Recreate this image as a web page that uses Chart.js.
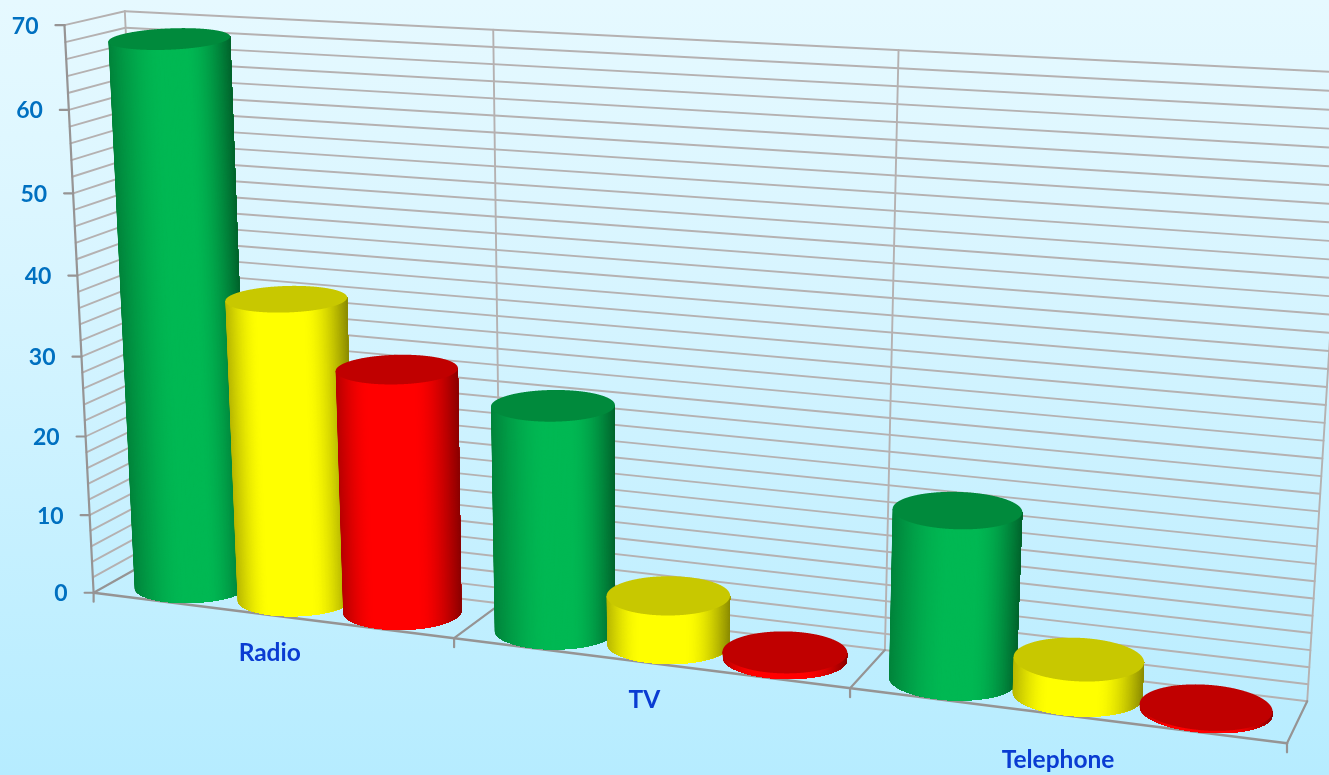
<!DOCTYPE html>
<html>
<head>
<meta charset="utf-8">
<title>Radio TV Telephone</title>
<script src="https://cdn.jsdelivr.net/npm/chart.js@4"></script>
<style>
    html, body { margin: 0; padding: 0; width: 1329px; height: 775px; overflow: hidden; }
    body { background: linear-gradient(180deg, #e6f9ff 0%, #d8f5ff 35%, #b6ecff 100%); }
    canvas { display: block; }
</style>
</head>
<body>
<canvas id="chart" width="1329" height="775"></canvas>
<script>
// data
const categories = ['Radio', 'TV', 'Telephone'];
const greenValues = [68, 27.6, 20];
const yellowValues = [37.6, 6, 4.2];
const redValues = [30.2, 0.8, 0.4];
const yMax = 70;
const yStep = 2;

// colours: body, top of the cylinder, width of the dark left side
const greenColors = ['#00b853', '#008a3c', 0.45];
const yellowColors = ['#ffff00', '#c8c800', 0.28];
const redColors = ['#ff0000', '#c00000', 0.28];

// category label nudges from the front edge, [dx, dy]
const labelNudge = [[0, 38], [-3, 37], [-5, 45]];

// where the corners of the 3D box fall on the page: [u, v, w, x, y]
const boxPoints = [
    [0, 0, 0, 96, 591], [1/3, 0, 0, 456, 637], [2/3, 0, 0, 851, 688], [1, 0, 0, 1287, 744],
    [0, 1, 0, 148, 563], [1/3, 1, 0, 497, 607], [2/3, 1, 0, 886, 648], [1, 1, 0, 1307, 700],
    [0, 0, 1, 62.7, 26], [0, 1, 1, 127, 10], [1/3, 1, 1, 493, 30], [2/3, 1, 1, 896, 50], [1, 1, 1, 1348, 74],
    [0, 0, 1, 62.7, 26], [0, 1, 1, 127, 10], [0, 0, 1, 62.7, 26], [0, 1, 1, 127, 10]
];

// least squares fit of the camera matrix
function fitCamera(points) {
    let n = 11;
    let A = [];
    for (let i = 0; i < n; i++) { A.push(new Array(n + 1).fill(0)); }
    function addRow(row, b) {
        for (let i = 0; i < n; i++) {
            for (let j = 0; j < n; j++) { A[i][j] += row[i] * row[j]; }
            A[i][n] += row[i] * b;
        }
    }
    points.forEach(function (p) {
        let x = p[3] / 1000, y = p[4] / 1000;
        addRow([p[0], p[1], p[2], 1, 0, 0, 0, 0, -x * p[0], -x * p[1], -x * p[2]], x);
        addRow([0, 0, 0, 0, p[0], p[1], p[2], 1, -y * p[0], -y * p[1], -y * p[2]], y);
    });
    for (let c = 0; c < n; c++) {
        let best = c;
        for (let r = c + 1; r < n; r++) { if (Math.abs(A[r][c]) > Math.abs(A[best][c])) best = r; }
        let tmp = A[c]; A[c] = A[best]; A[best] = tmp;
        for (let r = 0; r < n; r++) {
            if (r === c) continue;
            let f = A[r][c] / A[c][c];
            for (let k = c; k <= n; k++) { A[r][k] -= f * A[c][k]; }
        }
    }
    return A.map(function (row, i) { return row[n] / row[i]; });
}

const cam = fitCamera(boxPoints);

function project(u, v, w) {
    let d = cam[8] * u + cam[9] * v + cam[10] * w + 1;
    return {
        x: 1000 * (cam[0] * u + cam[1] * v + cam[2] * w + cam[3]) / d,
        y: 1000 * (cam[4] * u + cam[5] * v + cam[6] * w + cam[7]) / d
    };
}

function line(ctx, a, b, color, width) {
    ctx.strokeStyle = color;
    ctx.lineWidth = width;
    ctx.beginPath();
    ctx.moveTo(a.x, a.y);
    ctx.lineTo(b.x, b.y);
    ctx.stroke();
}

function shade(colors, p) {
    // dark at both sides, flat in the middle
    let hex = colors[0], left = colors[2];
    let f = 1;
    if (p < left) f = 0.72 + 0.28 * Math.sin(p / left * Math.PI / 2);
    if (p > 0.62) f = 0.55 + 0.45 * Math.cos((p - 0.62) / 0.38 * Math.PI / 2);
    let r = parseInt(hex.slice(1, 3), 16), g = parseInt(hex.slice(3, 5), 16), b = parseInt(hex.slice(5, 7), 16);
    return 'rgb(' + Math.round(r * f) + ',' + Math.round(g * f) + ',' + Math.round(b * f) + ')';
}

const ringSize = 720;

function ring(u, rU, w, rV) {
    // tall cylinders: open the top a bit more and lean it less, as the original does
    let extra = Math.max(0, w - 0.6);
    let pts = [];
    for (let i = 0; i < ringSize; i++) {
        let t = i / ringSize * Math.PI * 2;
        pts.push(project(u + rU * Math.cos(t) - 0.026 * extra * Math.sin(t), 0.5 + (rV + 0.4 * extra) * Math.sin(t), w));
    }
    return pts;
}

function sideIndexes(pts) {
    let l = 0, r = 0;
    pts.forEach(function (p, i) {
        if (p.x < pts[l].x) l = i;
        if (p.x > pts[r].x) r = i;
    });
    // walk from the left side to the right side through the front
    return { l: l, r: r < l ? r + ringSize : r };
}

function fillRing(ctx, pts, color) {
    ctx.fillStyle = color;
    ctx.beginPath();
    pts.forEach(function (p, i) { if (i) ctx.lineTo(p.x, p.y); else ctx.moveTo(p.x, p.y); });
    ctx.closePath();
    ctx.fill();
}

function drawCylinder(ctx, u, rU, w, colors) {
    let top = ring(u, rU, w, 0.53), bottom = ring(u, rU, 0, 0.5);
    let a = sideIndexes(top), b = sideIndexes(bottom);
    let strips = 200;
    let tl = top[a.l % ringSize], tr = top[a.r % ringSize], bl = bottom[b.l % ringSize], br = bottom[b.r % ringSize];
    ctx.save();
    // the outline of the body is clipped once, so its edge stays smooth
    ctx.beginPath();
    ctx.moveTo(tl.x, tl.y);
    ctx.lineTo(tr.x, tr.y);
    ctx.lineTo(br.x, br.y);
    for (let k = b.r; k >= b.l; k--) {
        let p = bottom[k % ringSize];
        ctx.lineTo(p.x, p.y);
    }
    ctx.closePath();
    ctx.clip();
    // each strip paints from its left edge past the right side, the next one paints over it
    for (let i = 0; i < strips; i++) {
        let s = i / strips;
        let t0 = top[Math.round(a.l + (a.r - a.l) * s) % ringSize];
        let b0 = bottom[Math.round(b.l + (b.r - b.l) * s) % ringSize];
        ctx.fillStyle = shade(colors, (t0.x - tl.x) / (tr.x - tl.x));
        ctx.beginPath();
        ctx.moveTo(t0.x, t0.y - 60);
        ctx.lineTo(tr.x + 40, t0.y - 60);
        ctx.lineTo(br.x + 40, b0.y + 60);
        ctx.lineTo(b0.x, b0.y + 60);
        ctx.lineTo(b0.x, b0.y);
        ctx.lineTo(t0.x, t0.y);
        ctx.closePath();
        ctx.fill();
    }
    ctx.restore();
    fillRing(ctx, top, colors[1]);
}

const box3d = {
    id: 'box3d',
    beforeDraw: function (chart) {
        let ctx = chart.ctx;
        let yScale = chart.scales.y;
        let gridColor = '#b5b1b1', axisColor = '#969494';
        ctx.save();
        ctx.lineCap = 'round';
        yScale.ticks.forEach(function (t) {
            let w = t.value / yMax;
            if (t.value > 0) {
                line(ctx, project(0, 0, w), project(0, 1, w), gridColor, 1.9);
            }
            line(ctx, project(0, 1, w), project(1, 1, w), gridColor, 1.9);
        });
        [0, 1, 2, 3].forEach(function (i) {
            let u = i / categories.length;
            line(ctx, project(u, 1, 0), project(u, 1, 1), gridColor, 1.9);
            line(ctx, project(u, 0, 0), project(u, 1, 0), axisColor, 2.2);
            let f = project(u, 0, 0);
            line(ctx, f, { x: f.x, y: f.y + 9 }, axisColor, 2.2);
        });
        line(ctx, project(0, 0, 0), project(0, 0, 1), axisColor, 2.2);
        line(ctx, project(0, 0, 0), project(1, 0, 0), axisColor, 2.6);
        ctx.restore();
    },
    beforeDatasetsDraw: function (chart) {
        let ctx = chart.ctx;
        let area = chart.chartArea;
        let yScale = chart.scales.y;
        ctx.save();
        categories.forEach(function (c, i) {
            chart.data.datasets.forEach(function (ds, k) {
                let bar = chart.getDatasetMeta(k).data[i];
                let u = (bar.x - area.left) / (area.right - area.left);
                let rU = bar.width / (area.right - area.left) / 2;
                let w = (yScale.getPixelForValue(0) - bar.y) / (area.bottom - area.top);
                drawCylinder(ctx, u, rU, w, ds.colors);
            });
        });
        ctx.restore();
        return false;
    },
    afterDraw: function (chart) {
        let ctx = chart.ctx;
        let yScale = chart.scales.y, xScale = chart.scales.x;
        let area = chart.chartArea;
        ctx.save();
        ctx.lineCap = 'round';
        ctx.textBaseline = 'middle';
        ctx.textAlign = 'right';
        ctx.font = 'bold 23px Lato';
        yScale.ticks.forEach(function (t) {
            if (t.label === '') return;
            let p = project(0, 0, t.value / yMax);
            line(ctx, p, { x: p.x - 9, y: p.y }, '#969494', 2.2);
            ctx.fillStyle = '#0070c0';
            ctx.fillText(t.label, p.x - 26, p.y + 1);
        });
        ctx.textAlign = 'center';
        ctx.font = 'bold 24.5px Lato';
        ctx.fillStyle = '#0a3cd2';
        categories.forEach(function (c, i) {
            let p = project((xScale.getPixelForTick(i) - area.left) / (area.right - area.left), 0, 0);
            ctx.fillText(c, p.x + labelNudge[i][0], p.y + labelNudge[i][1]);
        });
        ctx.restore();
    }
};

new Chart(document.getElementById('chart'), {
    type: 'bar',
    data: {
        labels: categories,
        datasets: [
            { label: 'Green', data: greenValues, colors: greenColors, backgroundColor: greenColors[0] },
            { label: 'Yellow', data: yellowValues, colors: yellowColors, backgroundColor: yellowColors[0] },
            { label: 'Red', data: redValues, colors: redColors, backgroundColor: redColors[0] }
        ]
    },
    options: {
        responsive: false,
        animation: false,
        layout: { padding: 0 },
        categoryPercentage: 0.885,
        barPercentage: 1,
        plugins: { legend: { display: false }, tooltip: { enabled: false } },
        scales: {
            x: { display: false },
            y: {
                display: false,
                min: 0,
                max: yMax,
                ticks: {
                    stepSize: yStep,
                    callback: function (v) { return v % 10 === 0 ? String(v) : ''; }
                }
            }
        }
    },
    plugins: [box3d]
});
</script>
</body>
</html>
